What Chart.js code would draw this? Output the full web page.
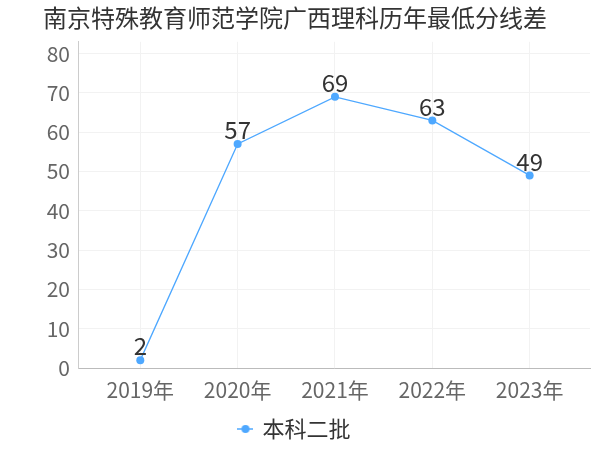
<!DOCTYPE html>
<html><head><meta charset="utf-8">
<script src="https://cdn.jsdelivr.net/npm/chart.js@4/dist/chart.umd.min.js"></script>
<style>html,body{margin:0;padding:0;background:#fff}#wrap{width:600px;height:450px}</style>
</head><body><div id="wrap"><canvas id="c" width="600" height="450"></canvas></div>
<script>
const title = "南京特殊教育师范学院广西理科历年最低分线差";
const categories = ["2019年","2020年","2021年","2022年","2023年"];
const seriesName = "本科二批";
const seriesValues = [2, 57, 69, 63, 49];
const yTicks = [0,10,20,30,40,50,60,70,80];

const FONT = "'Noto Sans CJK SC','Noto Sans',sans-serif";
const LINE = "#4ea8ff";

// legend marker: line with circle
const mk = document.createElement('canvas');
mk.width = 16; mk.height = 10;
(function(){const g=mk.getContext('2d');g.strokeStyle=LINE;g.lineWidth=1.5;g.beginPath();g.moveTo(0,5);g.lineTo(16,5);g.stroke();g.fillStyle=LINE;g.beginPath();g.arc(8,5,4,0,Math.PI*2);g.fill();})();

const labelPlugin = {
  id:'vals',
  afterDatasetsDraw(chart){
    const ctx=chart.ctx; const meta=chart.getDatasetMeta(0);
    ctx.save(); ctx.font="24px "+FONT; ctx.fillStyle="#333"; ctx.textAlign='center'; ctx.textBaseline='bottom';
    meta.data.forEach((p,i)=>{ctx.fillText(String(seriesValues[i]), p.x, p.y-2);});
    ctx.restore();
  }
};

new Chart(document.getElementById('c'),{
  type:'line',
  data:{datasets:[{label:seriesName,data:seriesValues.map((v,i)=>({x:i,y:v})),borderColor:LINE,backgroundColor:LINE,borderWidth:1.3,pointRadius:4,pointHoverRadius:4,pointBackgroundColor:LINE,pointBorderWidth:0,tension:0,pointStyle:'circle'}]},
  options:{
    responsive:false, animation:false,
    layout:{padding:{left:0,right:10,top:0,bottom:0}},
    plugins:{
      title:{display:true,text:title,color:'#333',font:{family:FONT,size:24,weight:'normal'},padding:{top:3,bottom:10}},
      legend:{position:'bottom',labels:{usePointStyle:true,pointStyle:mk,boxWidth:12,color:'#333',font:{family:FONT,size:22},padding:8}},
      tooltip:{enabled:false}
    },
    scales:{
      x:{type:'linear',min:-0.64,max:4.62,
        afterBuildTicks:(ax)=>{ax.ticks=categories.map((c,i)=>({value:i}));},
        afterFit:(ax)=>{ax.height=42;},
        ticks:{callback:(v)=>categories[v]!==undefined?categories[v]:'',color:'#666',font:{family:FONT,size:21},padding:9,autoSkip:false,maxRotation:0},
        grid:{color:'#f2f2f2',drawTicks:false},
        border:{color:'#bbb'}
      },
      y:{min:0,max:83,
        afterBuildTicks:(ax)=>{ax.ticks=yTicks.map(v=>({value:v}));},
        afterFit:(ax)=>{ax.width=78;},
        ticks:{color:'#666',font:{family:FONT,size:21},padding:8},
        grid:{color:'#f2f2f2',drawTicks:false},
        border:{color:'#ccc'}
      }
    }
  },
  plugins:[labelPlugin]
});
</script></body></html>
